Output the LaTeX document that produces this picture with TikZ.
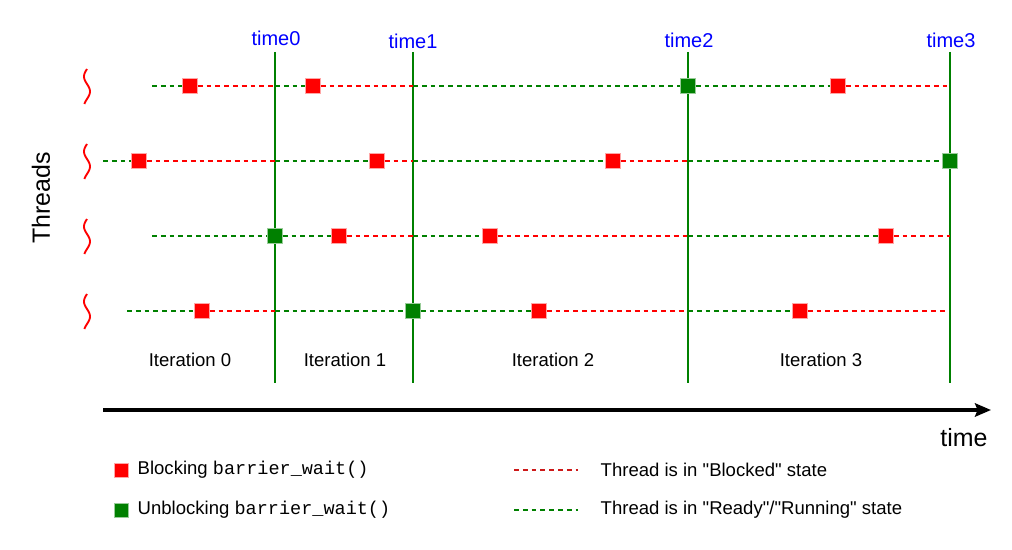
\documentclass[tikz,border=0pt]{standalone}
\usepackage{fontspec}
\setmainfont{Liberation Sans}[Ligatures=TeXOff]
\setmonofont{Liberation Mono}
\usetikzlibrary{arrows.meta}
\definecolor{dgreen}{RGB}{0,128,0}
\definecolor{lred}{RGB}{205,25,25}

\begin{document}
\begin{tikzpicture}[
  x=0.75pt, y=-0.75pt,
  blk/.style={draw=red!35, fill=red, line width=0.6pt, minimum size=11pt, inner sep=0pt},
  unblk/.style={draw=dgreen!40, fill=dgreen, line width=0.6pt, minimum size=11pt, inner sep=0pt},
  blocked/.style={red, line width=1.5pt, dash pattern=on 3.6pt off 3pt},
  ready/.style={dgreen, line width=1.5pt, dash pattern=on 3.6pt off 3pt},
  barrier/.style={dgreen, line width=1.6pt},
  tlabel/.style={blue, font=\fontsize{15}{17}\selectfont},
  lbl/.style={font=\fontsize{13.9}{16}\selectfont},
  big/.style={font=\fontsize{18.7}{21}\selectfont},
]
  \useasboundingbox (0,0) rectangle (1012,549);

  \coordinate (t0) at (275,52); \coordinate (t0b) at (275,383);
  \coordinate (t1) at (413,52); \coordinate (t1b) at (413,383);
  \coordinate (t2) at (688,52); \coordinate (t2b) at (688,383);
  \coordinate (t3) at (950,52); \coordinate (t3b) at (950,383);
  \foreach \t in {t0,t1,t2,t3} \draw[barrier] (\t) -- (\t b);

  \node[tlabel] (l0) at (276,38) {time0};
  \node[tlabel] (l1) at (413,41) {time1};
  \node[tlabel] (l2) at (689,40) {time2};
  \node[tlabel] (l3) at (951,40) {time3};

  \foreach \y in {86,161,236,311}
    \draw[red, line width=1.4pt] plot[domain=0:35, samples=40, smooth] ({87-3*sin(\x*12)}, {\y-17+\x});
  \node[big, rotate=90] (thr) at (41,198) {Threads};

  % thread 1
  \coordinate (a0) at (152,86);
  \node[blk] (a1) at (190,86) {};
  \node[blk] (a2) at (313,86) {};
  \node[unblk] (a3) at (688,86) {};
  \node[blk] (a4) at (838,86) {};
  \draw[ready] (a0) -- (a1);
  \draw[blocked] (a1) -- (a1 -| t0);
  \draw[ready] (a1 -| t0) -- (a2);
  \draw[blocked] (a2) -- (a2 -| t1);
  \draw[ready] (a2 -| t1) -- (a3);
  \draw[ready] (a3) -- (a4);
  \draw[blocked] (a4) -- (a4 -| t3);

  % thread 2
  \coordinate (b0) at (103,161);
  \node[blk] (b1) at (139,161) {};
  \node[blk] (b2) at (377,161) {};
  \node[blk] (b3) at (613,161) {};
  \node[unblk] (b4) at (950,161) {};
  \draw[ready] (b0) -- (b1);
  \draw[blocked] (b1) -- (b1 -| t0);
  \draw[ready] (b1 -| t0) -- (b2);
  \draw[blocked] (b2) -- (b2 -| t1);
  \draw[ready] (b2 -| t1) -- (b3);
  \draw[blocked] (b3) -- (b3 -| t2);
  \draw[ready] (b3 -| t2) -- (b4);

  % thread 3
  \coordinate (c0) at (152,236);
  \node[unblk] (c1) at (275,236) {};
  \node[blk] (c2) at (339,236) {};
  \node[blk] (c3) at (490,236) {};
  \node[blk] (c4) at (886,236) {};
  \draw[ready] (c0) -- (c1);
  \draw[ready] (c1) -- (c2);
  \draw[blocked] (c2) -- (c2 -| t1);
  \draw[ready] (c2 -| t1) -- (c3);
  \draw[blocked] (c3) -- (c3 -| t2);
  \draw[ready] (c3 -| t2) -- (c4);
  \draw[blocked] (c4) -- (c4 -| t3);

  % thread 4
  \coordinate (d0) at (127,311);
  \node[blk] (d1) at (202,311) {};
  \node[unblk] (d2) at (413,311) {};
  \node[blk] (d3) at (539,311) {};
  \node[blk] (d4) at (800,311) {};
  \coordinate (d5) at (947,311);
  \draw[ready] (d0) -- (d1);
  \draw[blocked] (d1) -- (d1 -| t0);
  \draw[ready] (d1 -| t0) -- (d2);
  \draw[ready] (d2) -- (d3);
  \draw[blocked] (d3) -- (d3 -| t2);
  \draw[ready] (d3 -| t2) -- (d4);
  \draw[blocked] (d4) -- (d5);

  \node[lbl] (it0) at (190,360) {Iteration 0};
  \node[lbl] (it1) at (345,360) {Iteration 1};
  \node[lbl] (it2) at (553,360) {Iteration 2};
  \node[lbl] (it3) at (821,360) {Iteration 3};

  \coordinate (ax0) at (103,410);
  \coordinate (ax1) at (991,410);
  \draw[line width=2.6pt, -{Stealth[length=12pt, width=10pt, inset=2pt]}] (ax0) -- (ax1);
  \node[big] (tm) at (964,438) {time};

  \node[blk, minimum size=10.5pt] (kb) at (121,470) {};
  \node[lbl, anchor=west] at (133,470) {Blocking \texttt{barrier\_wait()}};
  \node[unblk, minimum size=10.5pt] (ku) at (121,510) {};
  \node[lbl, anchor=west] at (133,510) {Unblocking \texttt{barrier\_wait()}};

  \coordinate (kr0) at (514,470); \coordinate (kr1) at (578,470);
  \coordinate (kg0) at (514,510); \coordinate (kg1) at (578,510);
  \draw[blocked, lred, line width=1.3pt] (kr0) -- (kr1);
  \draw[ready, line width=1.3pt] (kg0) -- (kg1);
  \node[lbl, anchor=west] at (596,470) {Thread is in "Blocked" state};
  \node[lbl, anchor=west] at (596,510) {Thread is in "Ready"/"Running" state};
\end{tikzpicture}
\end{document}
